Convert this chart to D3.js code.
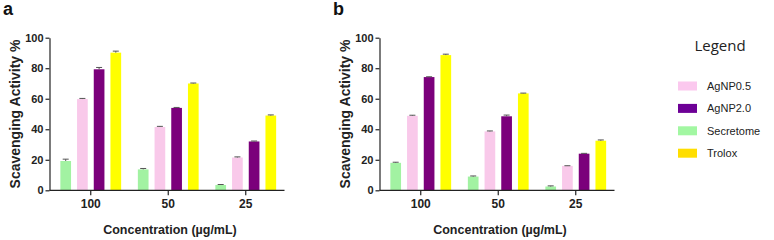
<!DOCTYPE html>
<html>
<head>
<meta charset="utf-8">
<script src="https://cdn.jsdelivr.net/npm/d3@7"></script>
<style>
  body { margin: 0; background: #fff; }
  svg { display: block; }
  .tick text { font-family: "Liberation Sans", Arial, sans-serif; font-weight: bold; font-size: 11px; fill: #222; }
</style>
</head>
<body>
<div id="chart"></div>
<script>
const concentrations = ["100", "50", "25"];
const seriesNames = ["Secretome", "AgNP0.5", "AgNP2.0", "Trolox"];
const yTicks = [0, 20, 40, 60, 80, 100];

// values per concentration, in series order
const panelAValues = [
    [19.2, 59.8, 79.3, 90.2],
    [13.7, 41.5, 54.0, 70.0],
    [3.5, 21.5, 32.0, 49.0]
];
const panelAErrors = [
    [1.2, 0.4, 1.2, 1.0],
    [0.6, 0.4, 0.3, 0.3],
    [0.3, 0.4, 0.3, 0.4]
];
const panelBValues = [
    [18.0, 48.8, 74.2, 88.6],
    [9.0, 38.6, 48.5, 63.5],
    [2.5, 16.0, 24.0, 32.5]
];
const panelBErrors = [
    [0.4, 0.4, 0.2, 0.6],
    [0.4, 0.3, 0.8, 0.2],
    [0.4, 0.1, 0.2, 0.5]
];

const legendOrder = ["AgNP0.5", "AgNP2.0", "Secretome", "Trolox"];

const barColor = {"Secretome": "#a2f2a2", "AgNP0.5": "#f9c9ea", "AgNP2.0": "#7b007b", "Trolox": "#ffff00"};
const legendColor = {"Secretome": "#a2f7a2", "AgNP0.5": "#fbc8ee", "AgNP2.0": "#6d0096", "Trolox": "#ffde00"};

const svg = d3.select("#chart").append("svg")
    .attr("width", 774)
    .attr("height", 240);

function drawPanel(offsetX, letter, values, errors) {
    const g = svg.append("g").attr("transform", "translate(" + offsetX + ",0)");
    const axisX = 49.5;
    const top = 37.7, bottom = 190.3;

    const y = d3.scaleLinear().domain([0, 100]).range([bottom, top]);
    const x = d3.scaleBand().domain(concentrations).range([52, 284.5]);
    const inner = d3.scaleBand().domain(seriesNames)
        .range([-33.4, 33.4]).paddingInner(0.36).paddingOuter(0.18);

    const rows = [];
    concentrations.forEach((c, i) => {
        seriesNames.forEach((s, j) => {
            rows.push({c: c, s: s, v: values[i][j], e: errors[i][j]});
        });
    });

    const cx = d => x(d.c) + x.bandwidth() / 2 + inner(d.s) + inner.bandwidth() / 2;

    g.append("g").selectAll("rect")
        .data(rows)
        .enter().append("rect")
        .attr("x", d => x(d.c) + x.bandwidth() / 2 + inner(d.s))
        .attr("y", d => y(d.v))
        .attr("width", inner.bandwidth())
        .attr("height", d => y(0) - y(d.v))
        .attr("fill", d => barColor[d.s]);

    // error bars (upper only)
    const err = g.append("g").attr("stroke", "#555").attr("stroke-width", 1);
    err.selectAll(".stem")
        .data(rows)
        .enter().append("line")
        .attr("x1", cx).attr("x2", cx)
        .attr("y1", d => y(d.v))
        .attr("y2", d => y(d.v + d.e));
    err.selectAll(".cap")
        .data(rows)
        .enter().append("line")
        .attr("x1", d => cx(d) - 3)
        .attr("x2", d => cx(d) + 3)
        .attr("y1", d => y(d.v + d.e))
        .attr("y2", d => y(d.v + d.e));

    const yAxis = g.append("g")
        .attr("transform", "translate(" + axisX + ",0)")
        .call(d3.axisLeft(y).tickValues(yTicks).tickSize(4).tickPadding(2).tickSizeOuter(0));
    yAxis.selectAll("line, path").attr("stroke", "#222").attr("stroke-width", 1.2);

    const xAxis = g.append("g")
        .attr("transform", "translate(0," + bottom + ")")
        .call(d3.axisBottom(x).tickSize(5).tickPadding(4).tickSizeOuter(0));
    xAxis.select(".domain").attr("d", "M" + axisX + ",0H284.5");
    xAxis.selectAll("line, path").attr("stroke", "#222").attr("stroke-width", 1.2);
    xAxis.selectAll(".tick text").style("font-size", "12px");

    g.append("text")
        .attr("transform", "translate(20," + ((top + bottom) / 2) + ") rotate(-90)")
        .attr("text-anchor", "middle")
        .style("font-family", "Liberation Sans, Arial, sans-serif")
        .style("font-weight", "bold")
        .style("font-size", "14px")
        .attr("fill", "#222")
        .text("Scavenging Activity %");

    g.append("text")
        .attr("x", 170)
        .attr("y", 233.5)
        .attr("text-anchor", "middle")
        .style("font-family", "Liberation Sans, Arial, sans-serif")
        .style("font-weight", "bold")
        .style("font-size", "12.5px")
        .attr("fill", "#222")
        .text("Concentration (µg/mL)");

    g.append("text")
        .attr("x", 3)
        .attr("y", 15)
        .style("font-family", "Liberation Sans, Arial, sans-serif")
        .style("font-weight", "bold")
        .style("font-size", "18px")
        .attr("fill", "#111")
        .text(letter);
}

drawPanel(0, "a", panelAValues, panelAErrors);
drawPanel(330, "b", panelBValues, panelBErrors);

// legend
const legend = svg.append("g");
legend.append("text")
    .attr("x", 720)
    .attr("y", 51)
    .attr("text-anchor", "middle")
    .style("font-family", "Open Sans, sans-serif")
    .style("font-size", "15px")
    .attr("fill", "#222")
    .text("Legend");

const items = legend.selectAll(".item")
    .data(legendOrder)
    .enter().append("g")
    .attr("transform", (d, i) => "translate(678," + (86 + i * 22.4) + ")");
items.append("rect")
    .attr("x", 0).attr("y", -4.5)
    .attr("width", 19).attr("height", 9)
    .attr("fill", d => legendColor[d]);
items.append("text")
    .attr("x", 29)
    .attr("y", 4)
    .style("font-family", "Liberation Sans, Arial, sans-serif")
    .style("font-size", "11px")
    .attr("fill", "#222")
    .text(d => d);
</script>
</body>
</html>
